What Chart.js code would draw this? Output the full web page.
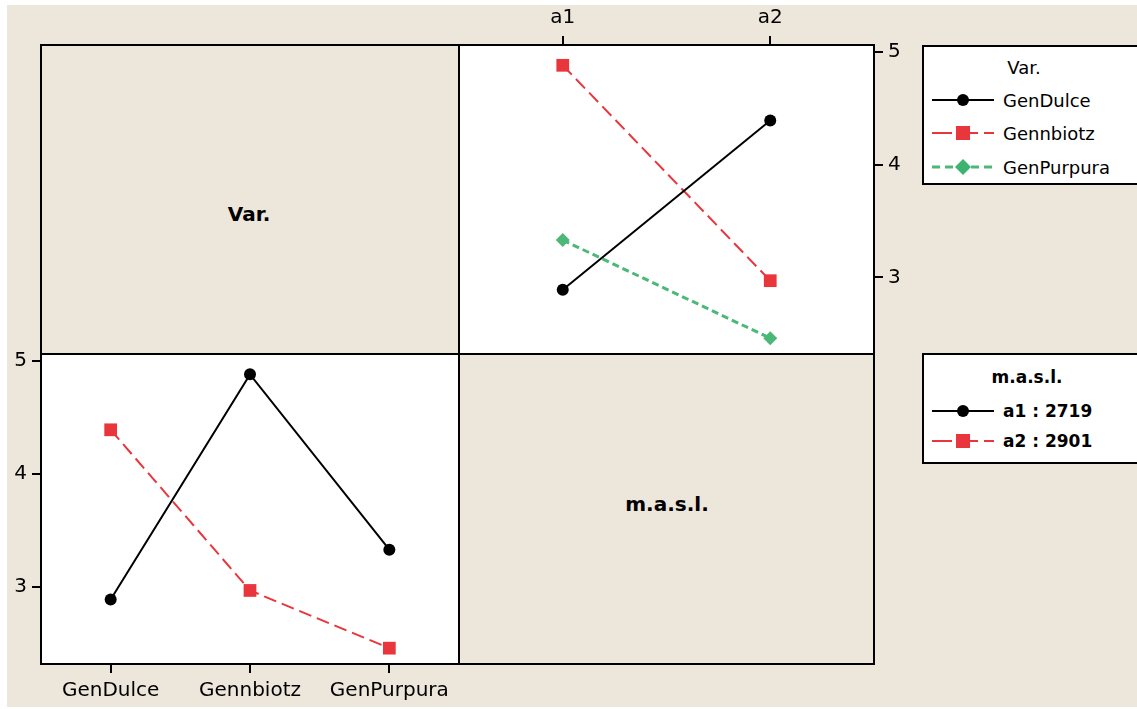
<!DOCTYPE html>
<html>
<head>
<meta charset="utf-8">
<script src="https://cdn.jsdelivr.net/npm/chart.js@4/dist/chart.umd.min.js"></script>
<style>
  body { margin: 0; background: #fff; }
  #page { position: absolute; left: 7px; top: 5px; width: 1130px; height: 702px; background: #ede6da; }
  .panel { position: absolute; box-sizing: border-box; border: 2px solid #000; }
  .white { background: #fff; }
  .big { position: absolute; font: bold 20px "DejaVu Sans", sans-serif; color: #000; transform: translate(-50%, -50%); }
  canvas { position: absolute; }
  .legend { position: absolute; box-sizing: border-box; border: 2px solid #000; background: #fff;
            font: 18px "DejaVu Sans", sans-serif; color: #000; }
  .legend .ttl { position: absolute; transform: translate(-50%, -50%); white-space: nowrap; }
  .legend .row { position: absolute; left: 6px; height: 20px; white-space: nowrap; }
  .legend svg { position: absolute; left: 0; top: 0; }
  .legend span { position: absolute; left: 73px; top: 50%; transform: translateY(-50%); }
</style>
</head>
<body>
<div id="page"></div>
<div class="panel" style="left:40px;top:44px;width:420px;height:311px;"></div>
<div class="panel white" style="left:458px;top:44px;width:417px;height:311px;"></div>
<div class="panel white" style="left:40px;top:353px;width:420px;height:312px;"></div>
<div class="panel" style="left:458px;top:353px;width:417px;height:312px;"></div>
<div class="big" style="left:249px;top:214px;">Var.</div>
<div class="big" style="left:667px;top:504px;">m.a.s.l.</div>

<canvas id="varChart" style="left:0;top:334px;" width="459" height="375"></canvas>
<canvas id="altChart" style="left:459px;top:0;" width="470" height="354"></canvas>

<div class="legend" style="left:922px;top:45px;width:220px;height:140px;">
  <div class="ttl" style="left:100px;top:20px;">Var.</div>
  <div class="row" style="top:43px;width:200px;">
    <svg width="70" height="20"><line x1="2" y1="10" x2="64" y2="10" stroke="#000" stroke-width="2"/><circle cx="33" cy="10" r="6" fill="#000"/></svg>
    <span>GenDulce</span></div>
  <div class="row" style="top:76px;width:200px;">
    <svg width="70" height="20"><line x1="2" y1="10" x2="64" y2="10" stroke="#e8363c" stroke-width="2" stroke-dasharray="20 6"/><rect x="26" y="3" width="14" height="14" fill="#e8363c"/></svg>
    <span>Gennbiotz</span></div>
  <div class="row" style="top:110px;width:200px;">
    <svg width="70" height="20"><line x1="2" y1="10" x2="64" y2="10" stroke="#4cb878" stroke-width="3" stroke-dasharray="8 5"/><polygon points="33,2 41,10 33,18 25,10" fill="#3cb371"/></svg>
    <span>GenPurpura</span></div>
</div>

<div class="legend" style="left:922px;top:353px;width:220px;height:111px;font-weight:bold;font-size:17px;">
  <div class="ttl" style="left:103px;top:22px;">m.a.s.l.</div>
  <div class="row" style="top:46px;width:200px;">
    <svg width="70" height="20"><line x1="2" y1="10" x2="64" y2="10" stroke="#000" stroke-width="2"/><circle cx="33" cy="10" r="6" fill="#000"/></svg>
    <span>a1 : 2719</span></div>
  <div class="row" style="top:76px;width:200px;">
    <svg width="70" height="20"><line x1="2" y1="10" x2="64" y2="10" stroke="#e8363c" stroke-width="2" stroke-dasharray="20 6"/><rect x="26" y="3" width="14" height="14" fill="#e8363c"/></svg>
    <span>a2 : 2901</span></div>
</div>

<script>
const varieties = ['GenDulce', 'Gennbiotz', 'GenPurpura'];
const altitudes = ['a1', 'a2'];
const altitudeLabels = ['a1 : 2719', 'a2 : 2901'];
// mean response per variety, one array per altitude
const meansA1 = [2.89, 4.88, 3.33];
const meansA2 = [4.39, 2.97, 2.46];
const yTicks = [3, 4, 5];
const yMin = 2.32;
const yMax = 5.06;

const seriesStyle = [
    { color: '#000000', dash: [], point: 'circle', radius: 6, width: 2 },
    { color: '#e8363c', dash: [13, 6], point: 'rect', radius: 9, width: 2 },
    { color: '#4cb878', dash: [7, 4], point: 'rectRot', radius: 7, width: 3 },
];

Chart.defaults.font.family = '"DejaVu Sans", sans-serif';
Chart.defaults.font.size = 20;
Chart.defaults.color = '#000';

function makeDataset(label, data, st) {
    return {
        label: label,
        data: data,
        borderColor: st.color,
        backgroundColor: st.color,
        borderWidth: st.width,
        borderDash: st.dash,
        pointStyle: st.point,
        pointRadius: st.radius,
        pointHoverRadius: st.radius,
        pointBorderWidth: 0,
        fill: false,
        tension: 0,
    };
}

function noPad(s) {
    s.paddingTop = 0;
    s.paddingBottom = 0;
    s.paddingLeft = 0;
    s.paddingRight = 0;
}

function yAxis(position, width) {
    return {
        type: 'linear',
        position: position,
        min: yMin,
        max: yMax,
        bounds: 'data',
        afterBuildTicks: (s) => { s.ticks = yTicks.map(v => ({ value: v })); },
        afterFit: (s) => { s.width = width; noPad(s); },
        grid: { display: true, drawOnChartArea: false, drawTicks: true, tickLength: 9, color: '#000', lineWidth: 2 },
        border: { display: false },
        ticks: { padding: 5 },
    };
}

function xAxis(position, height) {
    return {
        type: 'category',
        position: position,
        offset: true,
        afterFit: (s) => { s.height = height; noPad(s); },
        grid: { display: true, drawOnChartArea: false, drawTicks: true, tickLength: 9, color: '#000', lineWidth: 2, offset: false },
        border: { display: false },
        ticks: { padding: 6, maxRotation: 0, autoSkip: false },
    };
}

function options(scales, padding) {
    return {
        responsive: false,
        animation: false,
        layout: { padding: padding, autoPadding: false },
        plugins: { legend: { display: false }, tooltip: { enabled: false } },
        scales: scales,
    };
}

// bottom-left panel: response vs variety, one line per altitude
new Chart(document.getElementById('varChart').getContext('2d'), {
    type: 'line',
    data: {
        labels: varieties,
        datasets: [
            makeDataset(altitudeLabels[0], meansA1, seriesStyle[0]),
            makeDataset(altitudeLabels[1], meansA2, seriesStyle[1]),
        ],
    },
    options: options({ x: xAxis('bottom', 45), y: yAxis('left', 41) }, { top: 20 }),
});

// top-right panel: response vs altitude, one line per variety
new Chart(document.getElementById('altChart').getContext('2d'), {
    type: 'line',
    data: {
        labels: altitudes,
        datasets: varieties.map((v, i) => makeDataset(v, [meansA1[i], meansA2[i]], seriesStyle[i])),
    },
    options: options({ x: xAxis('top', 45), y: yAxis('right', 55) }, 0),
});
</script>
</body>
</html>
